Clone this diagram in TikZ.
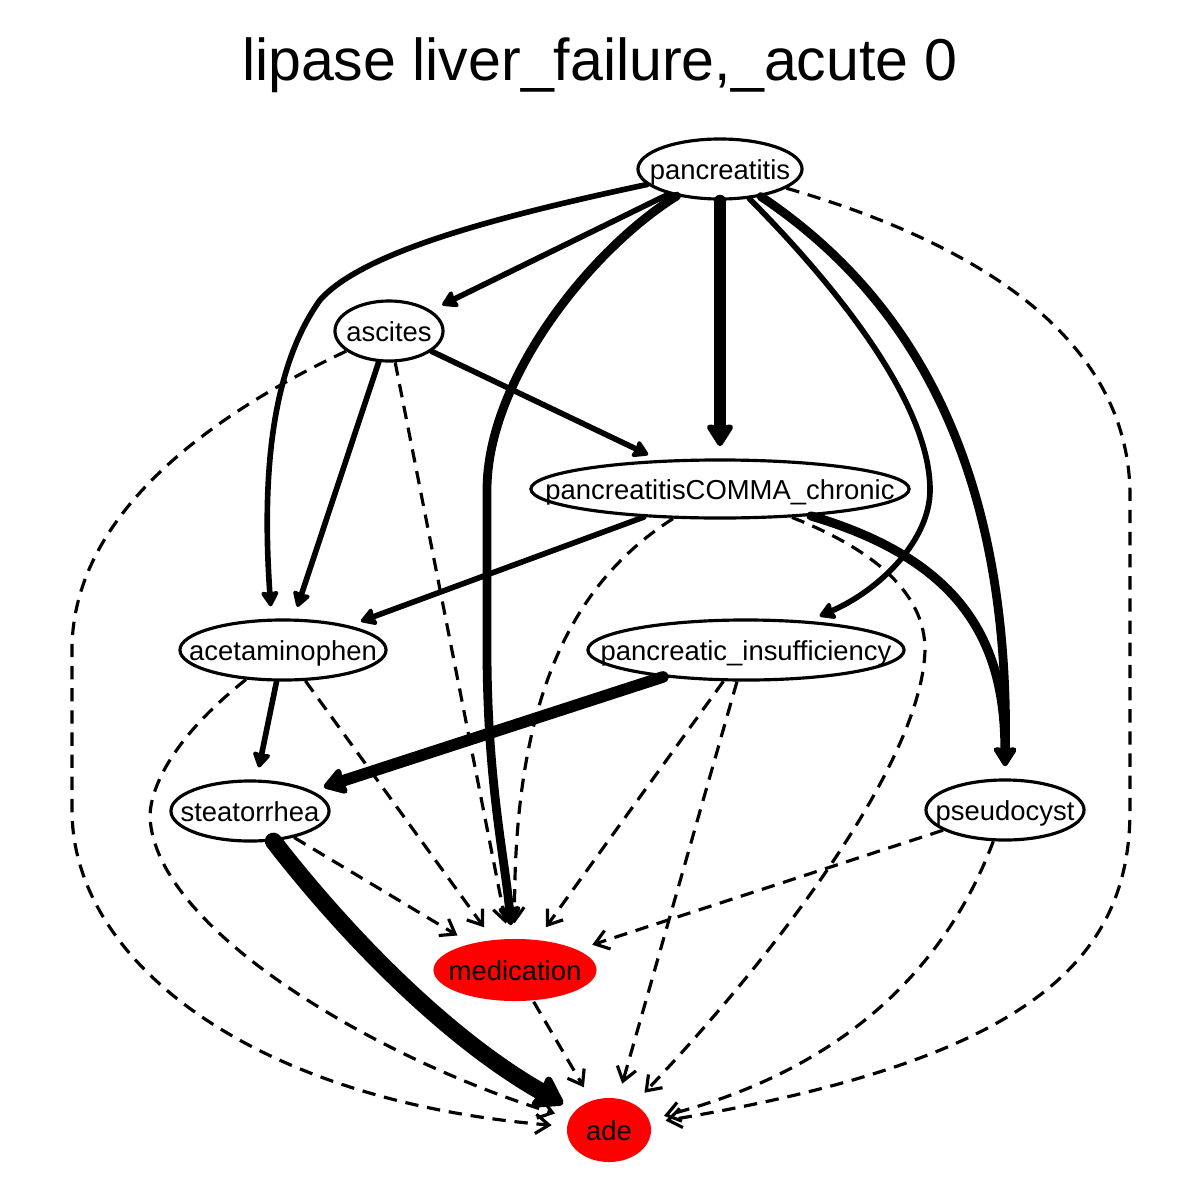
\documentclass[tikz,border=0pt]{standalone}
\usepackage{fontspec}
\setmainfont{Liberation Sans}
\usetikzlibrary{arrows.meta, shapes.geometric}
\definecolor{adered}{RGB}{255,0,0}
\newcommand{\vlab}[1]{\makebox[0pt]{#1}}

\begin{document}
\begin{tikzpicture}[x=0.01cm, y=-0.01cm,
  var/.style={ellipse, draw, line width=0.9pt, inner sep=0pt, text height=0.58em, text depth=0pt, minimum height=0.6cm, font=\fontsize{7.8}{9}\selectfont},
  hit/.style={var, draw=none, fill=adered},
  link/.style={line width=#1, line cap=round, -{Stealth[round, length=3pt 1.2, width=3pt 1.7, inset=0.5pt]}, shorten >=3.5pt},
  link/.default=1.6pt,
  maybe/.style={line width=0.9pt, dash pattern=on 3.8pt off 2.5pt, -{Straight Barb[length=3.8pt, width=5.5pt]}, shorten >=4pt}]
  \useasboundingbox (0,0) rectangle (1200,1200);
  \node[anchor=base, font=\fontsize{16.8}{20}\selectfont] (title) at (600,80) {lipase liver\_failure,\_acute 0};

  \node[var, minimum width=1.64cm] (pan) at (720,169) {\vlab{pancreatitis}};
  \node[var, minimum width=1.08cm] (asc) at (389,331) {\vlab{ascites}};
  \node[var, minimum width=3.78cm, minimum height=0.58cm] (chr) at (720,489) {\vlab{pancreatitisCOMMA\_chronic}};
  \node[var, minimum width=2.06cm] (acet) at (283,650) {\vlab{acetaminophen}};
  \node[var, minimum width=3.16cm] (pins) at (746,650) {\vlab{pancreatic\_insufficiency}};
  \node[var, minimum width=1.58cm] (stea) at (250,811) {\vlab{steatorrhea}};
  \node[var, minimum width=1.58cm] (pseu) at (1005,810) {\vlab{pseudocyst}};
  \node[hit, minimum width=1.63cm, minimum height=0.62cm] (med) at (515,970) {\vlab{medication}};
  \node[hit, minimum width=0.84cm, minimum height=0.64cm] (ade) at (609,1130) {\vlab{ade}};

  \foreach \a/\b in {asc/med, acet/med, pins/med, pins/ade, stea/med, pseu/med, med/ade}
    \draw[maybe] (\a) -- (\b);
  \draw[maybe] (pan) .. controls (1000,250) and (1128,350) .. (1130,493) -- (1130,810) .. controls (1130,960) and (1030,1060) .. (ade);
  \draw[maybe] (asc) .. controls (200,420) and (72,520) .. (72,650) -- (72,810) .. controls (72,960) and (250,1100) .. (ade);
  \draw[maybe] (acet) .. controls (170,740) and (150,790) .. (150,817) .. controls (155,930) and (380,1060) .. (ade);
  \draw[maybe] (chr) .. controls (900,560) and (925,610) .. (925,650) .. controls (922,760) and (780,950) .. (ade);
  \draw[maybe] (chr) .. controls (560,590) and (513,720) .. (med);
  \draw[maybe] (pseu) .. controls (960,930) and (880,1060) .. (ade);

  \foreach \a/\b in {pan/asc, asc/chr, asc/acet, chr/acet, acet/stea}
    \draw[link] (\a) -- (\b);
  \draw[link] (pan) .. controls (480,220) and (360,255) .. (320,300) .. controls (270,370) and (262,480) .. (acet.110);
  \draw[link] (pan) .. controls (830,280) and (930,400) .. (930,490) .. controls (930,540) and (880,590) .. (pins.25);
  \draw[link=2.5pt] (pan) .. controls (590,250) and (487,380) .. (487,490) -- (487,650) .. controls (487,780) and (505,860) .. (med);
  \draw[link=2.5pt] (pan) .. controls (900,290) and (1010,450) .. (pseu.north);
  \draw[link=2.6pt] (chr) .. controls (960,560) and (1005,640) .. (pseu.north);
  \draw[link=3.3pt] (pan) -- (chr);
  \draw[link=3.3pt] (pins) -- (stea);
  \draw[link=4.9pt] (stea) .. controls (350,940) and (450,1040) .. (ade);
\end{tikzpicture}
\end{document}
